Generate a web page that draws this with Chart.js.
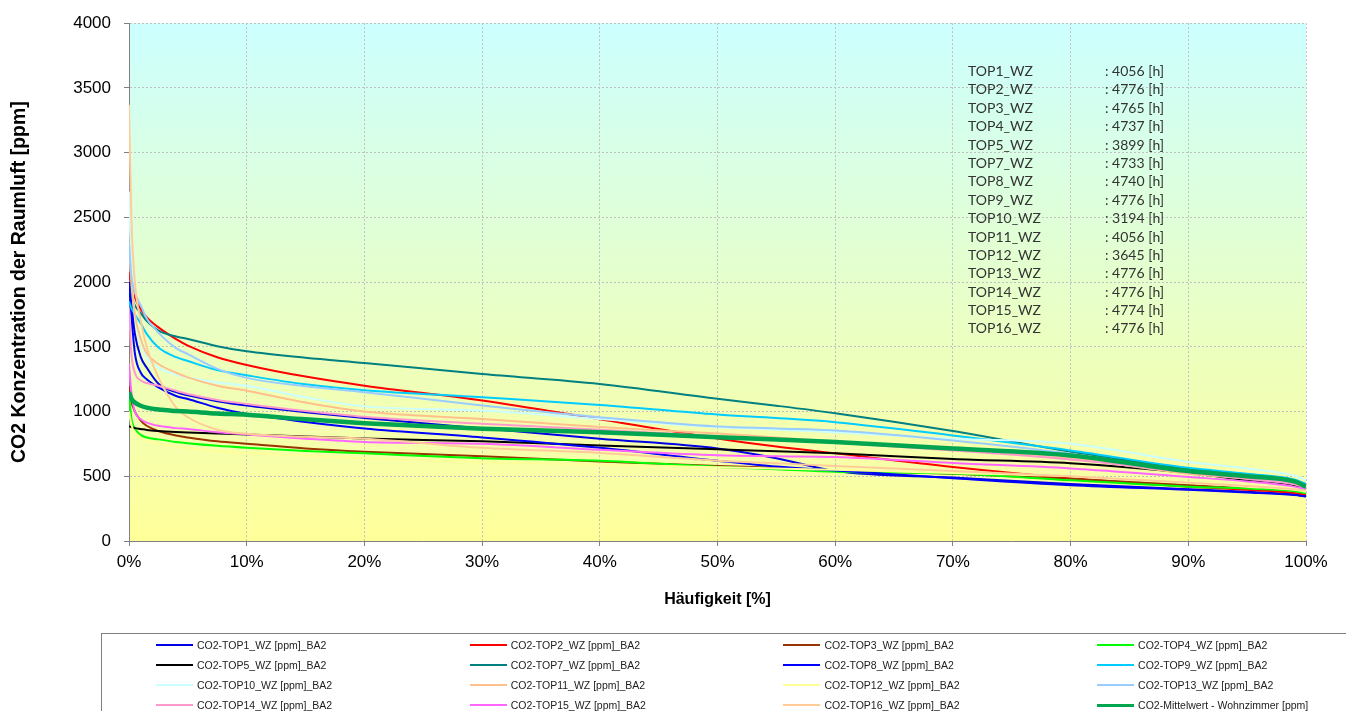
<!DOCTYPE html>
<html>
<head>
<meta charset="utf-8">
<script src="https://cdn.jsdelivr.net/npm/chart.js@4"></script>
<style>
  body { margin: 0; background: #fff; }
  #wrap { position: relative; width: 1346px; height: 711px; overflow: hidden; }
  #legend {
    position: absolute; left: 101px; top: 633px; width: 1300px; height: 100px;
    border: 1px solid #7f7f7f; box-sizing: border-box;
    font: 10.5px Arial, "Liberation Sans", sans-serif; color: #222;
  }
  .item { position: absolute; height: 14px; display: flex; align-items: center; white-space: nowrap; }
  .item span.line { display: inline-block; width: 37px; margin-right: 4px; }
  #hours {
    position: absolute; left: 968px; top: 62px;
    font: 14px Lato, "Open Sans", sans-serif; color: #333;
  }
  #hours div { height: 18.4px; line-height: 18.4px; position: relative; white-space: nowrap; }
  #hours div b { font-weight: normal; position: absolute; left: 137px; }
</style>
</head>
<body>
<div id="wrap">
  <canvas id="chart"></canvas>
  <div id="hours"></div>
  <div id="legend"></div>
</div>
<script>
// Häufigkeit [%] - shared x positions for every duration curve
const pct = [0, 0.2, 0.5, 1, 1.5, 2.5, 4, 5, 7.5, 10, 15, 20, 30, 40, 50, 55, 60, 70, 80, 90, 95, 99, 100];

// CO2 values [ppm]
const top1  = [2000, 1830, 1600, 1420, 1340, 1215, 1150, 1125, 1080, 1046, 995, 950, 870, 790, 715, 640, 540, 490, 440, 400, 380, 360, 345];
const top2  = [2080, 1980, 1880, 1790, 1730, 1650, 1560, 1510, 1420, 1360, 1270, 1200, 1085, 940, 792, 730, 677, 572, 485, 420, 395, 370, 355];
const top3  = [1200, 1080, 1000, 930, 890, 850, 815, 800, 770, 751, 715, 690, 654, 615, 580, 565, 545, 520, 480, 430, 410, 390, 375];
const top4  = [1150, 950, 870, 820, 800, 785, 765, 755, 735, 720, 695, 677, 640, 620, 572, 555, 535, 521, 469, 420, 405, 385, 370];
const top5  = [887, 880, 872, 865, 858, 850, 842, 838, 830, 823, 808, 792, 770, 738, 708, 693, 677, 633, 600, 525, 470, 430, 400];
const top7  = [2000, 1900, 1820, 1760, 1700, 1625, 1580, 1560, 1505, 1465, 1415, 1375, 1290, 1213, 1098, 1045, 987, 849, 690, 560, 510, 470, 440];
const top8  = [2000, 1750, 1450, 1300, 1250, 1187, 1120, 1097, 1030, 982, 920, 869, 800, 720, 620, 575, 545, 485, 431, 395, 375, 355, 345];
const top9  = [1850, 1800, 1750, 1680, 1600, 1495, 1420, 1390, 1320, 1280, 1210, 1165, 1110, 1051, 977, 950, 918, 815, 700, 565, 520, 475, 440];
const top10 = [2700, 2100, 1750, 1550, 1420, 1340, 1285, 1264, 1225, 1200, 1110, 1040, 1008, 943, 878, 860, 840, 790, 752, 610, 560, 505, 470];
const top11 = [2300, 2000, 1750, 1560, 1450, 1367, 1300, 1264, 1200, 1161, 1070, 1000, 943, 880, 830, 800, 770, 710, 640, 520, 480, 440, 410];
const top12 = [1000, 900, 830, 790, 770, 750, 730, 720, 695, 680, 660, 640, 610, 590, 570, 560, 550, 525, 500, 450, 420, 395, 380];
const top13 = [2300, 2050, 1920, 1820, 1720, 1610, 1490, 1444, 1330, 1260, 1195, 1150, 1046, 956, 885, 870, 854, 777, 675, 540, 495, 450, 420];
const top14 = [1800, 1450, 1300, 1240, 1220, 1200, 1160, 1136, 1090, 1059, 1005, 960, 905, 860, 810, 785, 760, 700, 630, 530, 480, 440, 420];
const top15 = [1370, 1150, 1000, 940, 915, 890, 872, 865, 840, 823, 790, 765, 751, 705, 662, 655, 649, 602, 561, 495, 460, 420, 400];
const top16 = [3370, 2500, 2000, 1700, 1500, 1264, 1030, 956, 860, 828, 805, 790, 720, 680, 620, 600, 580, 540, 500, 450, 425, 400, 390];
const mean  = [1150, 1100, 1070, 1045, 1030, 1015, 1005, 1000, 985, 975, 940, 910, 867, 841, 802, 785, 764, 715, 661, 540, 500, 460, 420];

// text block: hours per flat
const rooms = ['TOP1_WZ', 'TOP2_WZ', 'TOP3_WZ', 'TOP4_WZ', 'TOP5_WZ', 'TOP7_WZ', 'TOP8_WZ', 'TOP9_WZ',
               'TOP10_WZ', 'TOP11_WZ', 'TOP12_WZ', 'TOP13_WZ', 'TOP14_WZ', 'TOP15_WZ', 'TOP16_WZ'];
const hours = [4056, 4776, 4765, 4737, 3899, 4733, 4740, 4776, 3194, 4056, 3645, 4776, 4776, 4774, 4776];

const seriesDefs = [
    { label: 'CO2-TOP1_WZ [ppm]_BA2', data: top1, color: '#0000e6' },
    { label: 'CO2-TOP2_WZ [ppm]_BA2', data: top2, color: '#ff0000' },
    { label: 'CO2-TOP3_WZ [ppm]_BA2', data: top3, color: '#993300' },
    { label: 'CO2-TOP4_WZ [ppm]_BA2', data: top4, color: '#00ff00' },
    { label: 'CO2-TOP5_WZ [ppm]_BA2', data: top5, color: '#000000' },
    { label: 'CO2-TOP7_WZ [ppm]_BA2', data: top7, color: '#008080' },
    { label: 'CO2-TOP8_WZ [ppm]_BA2', data: top8, color: '#0000ff' },
    { label: 'CO2-TOP9_WZ [ppm]_BA2', data: top9, color: '#00ccff' },
    { label: 'CO2-TOP10_WZ [ppm]_BA2', data: top10, color: '#ccffff' },
    { label: 'CO2-TOP11_WZ [ppm]_BA2', data: top11, color: '#ffc08c' },
    { label: 'CO2-TOP12_WZ [ppm]_BA2', data: top12, color: '#ffff99' },
    { label: 'CO2-TOP13_WZ [ppm]_BA2', data: top13, color: '#99ccff' },
    { label: 'CO2-TOP14_WZ [ppm]_BA2', data: top14, color: '#ff99cc' },
    { label: 'CO2-TOP15_WZ [ppm]_BA2', data: top15, color: '#ff66ff' },
    { label: 'CO2-TOP16_WZ [ppm]_BA2', data: top16, color: '#ffcc99' },
    { label: 'CO2-Mittelwert - Wohnzimmer [ppm]', data: mean, color: '#00a550', width: 4.5 }
];

const datasets = seriesDefs.map((s, i) => ({
    label: s.label,
    data: s.data.map((v, k) => ({ x: pct[k], y: v })),
    borderColor: s.color,
    backgroundColor: s.color,
    borderWidth: s.width || 2,
    pointRadius: 0,
    cubicInterpolationMode: 'monotone',
    order: seriesDefs.length - i   // later series on top, like the original
}));

// cyan -> yellow background inside the plot area
const plotBackground = {
    id: 'plotBackground',
    beforeDraw(chart) {
        const { ctx, chartArea: a } = chart;
        const g = ctx.createLinearGradient(0, a.top, 0, a.bottom);
        g.addColorStop(0, '#ccffff');
        g.addColorStop(1, '#ffff99');
        ctx.save();
        ctx.fillStyle = g;
        ctx.fillRect(a.left, a.top, a.right - a.left, a.bottom - a.top);
        ctx.restore();
    }
};

const axisFont = { family: 'Arial, "Liberation Sans", sans-serif', size: 17 };

new Chart(document.getElementById('chart'), {
    type: 'line',
    data: { datasets },
    plugins: [plotBackground],
    options: {
        responsive: true,
        maintainAspectRatio: false,
        animation: false,
        layout: { padding: { left: 0, top: 19, right: 40, bottom: 100 } },
        plugins: { legend: { display: false }, tooltip: { enabled: false } },
        scales: {
            x: {
                type: 'linear', min: 0, max: 100,
                afterFit: (s) => { s.height = 70; },
                ticks: { stepSize: 10, color: '#000', font: axisFont, padding: 6, maxRotation: 0,
                         callback: (v) => v + '%' },
                grid: { color: '#c0c0c0', tickLength: 5, tickColor: '#808080' },
                border: { color: '#808080', dash: [2, 2] },
                title: { display: true, text: 'Häufigkeit [%]', color: '#000',
                         font: { family: axisFont.family, size: 16, weight: 'bold' },
                         padding: { top: 0, bottom: 2 } }
            },
            y: {
                min: 0, max: 4000,
                afterFit: (s) => { s.width = 129; },
                ticks: { stepSize: 500, color: '#000', font: axisFont, padding: 13,
                         callback: (v) => String(v) },
                grid: { color: '#c0c0c0', tickLength: 5, tickColor: '#808080' },
                border: { color: '#808080', dash: [2, 2] },
                title: { display: true, text: 'CO2 Konzentration der Raumluft [ppm]', color: '#000',
                         font: { family: axisFont.family, size: 19.5, weight: 'bold' },
                         padding: { top: 8, bottom: 0 } }
            }
        }
    }
});

// hours text block
const hoursBox = document.getElementById('hours');
rooms.forEach((r, i) => {
    const row = document.createElement('div');
    row.textContent = r;
    const b = document.createElement('b');
    b.textContent = ': ' + hours[i] + ' [h]';
    row.appendChild(b);
    hoursBox.appendChild(row);
});

// legend: 4 columns, filled row by row
const legendBox = document.getElementById('legend');
seriesDefs.forEach((s, i) => {
    const col = i % 4, row = Math.floor(i / 4);
    const item = document.createElement('div');
    item.className = 'item';
    item.style.left = (54 + col * 313.7) + 'px';
    item.style.top = (4 + row * 20) + 'px';
    const line = document.createElement('span');
    line.className = 'line';
    line.style.borderTop = (s.width ? 3 : 2) + 'px solid ' + s.color;
    item.appendChild(line);
    item.appendChild(document.createTextNode(s.label));
    legendBox.appendChild(item);
});
</script>
</body>
</html>
